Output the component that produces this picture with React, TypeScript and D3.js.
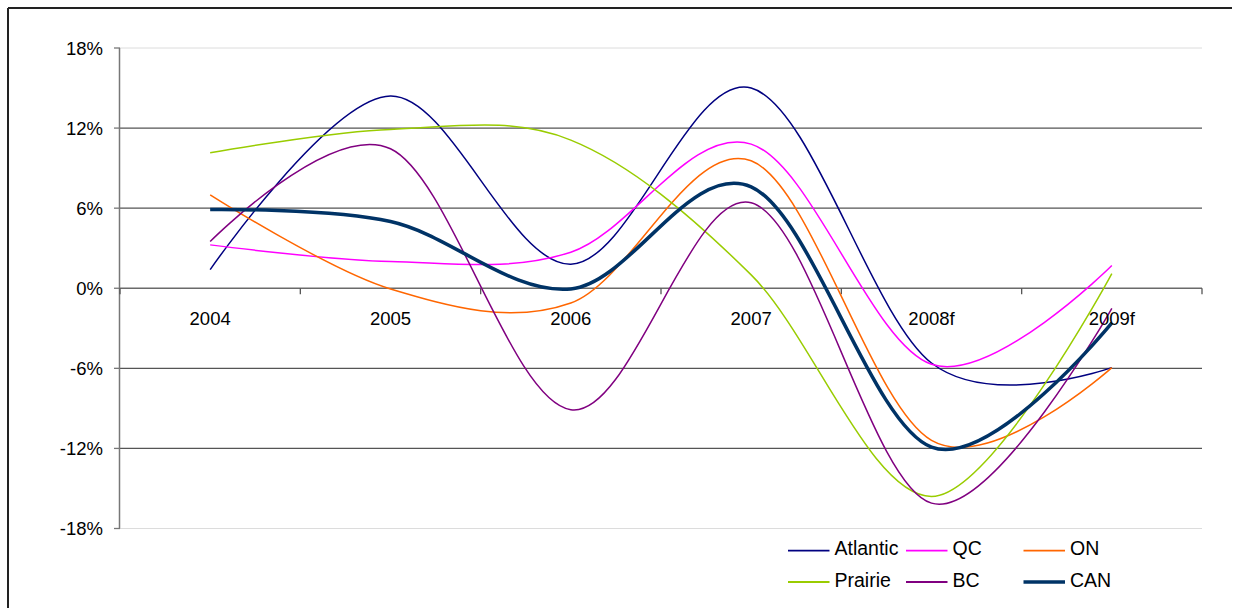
import React from "react";
import * as d3 from "d3";

// Year-over-year change by region, %
const categories = ["2004", "2005", "2006", "2007", "2008f", "2009f"];
const atlantic = [1.4, 14.4, 1.8, 15.0, -5.6, -5.95];
const qc = [3.25, 2.0, 2.7, 10.8, -5.7, 1.7];
const on = [7.0, -0.05, -1.1, 9.55, -11.4, -5.95];
const prairie = [10.15, 11.9, 11.1, 1.0, -15.6, 1.1];
const bc = [3.5, 10.45, -9.1, 6.4, -16.1, -1.5];
const can = [5.9, 5.0, -0.05, 7.6, -11.9, -2.6];

const yTicks = [18, 12, 6, 0, -6, -12, -18];

const series = [
  { name: "Atlantic", values: atlantic, color: "#000080", width: 1.5 },
  { name: "QC", values: qc, color: "#FF00FF", width: 1.5 },
  { name: "ON", values: on, color: "#FF6600", width: 1.5 },
  { name: "Prairie", values: prairie, color: "#99CC00", width: 1.5 },
  { name: "BC", values: bc, color: "#800080", width: 1.5 },
  { name: "CAN", values: can, color: "#003366", width: 3.5 },
];

const W = 1238;
const H = 608;
const FONT = "'Liberation Sans', Arial, sans-serif";

export default function App() {
  const x = d3.scaleBand<string>().domain(categories).range([120, 1202]).padding(0);
  const y = d3.scaleLinear().domain([-18, 18]).range([528.5, 48]);
  const cx = (c: string) => (x(c) as number) + x.bandwidth() / 2;

  const line = d3
    .line<number>()
    .x((_, i) => cx(categories[i]))
    .y((v) => y(v))
    .curve(d3.curveCardinal.tension(0));

  const [x0, x1] = x.range();
  const boundaries = categories.map((c) => x(c) as number).concat([x1]);

  const legendCols = [788, 906, 1023.5];
  const legendRows = [550.7, 582];

  return (
    <svg
      width={W}
      height={H}
      style={{ position: "absolute", left: 0, top: 0, display: "block", background: "#fff" }}
      fontFamily={FONT}
    >
      {/* chart frame */}
      <line x1={8} y1={8} x2={1232} y2={8} stroke="#222" strokeWidth={2} />
      <line x1={8} y1={8} x2={8} y2={H} stroke="#222" strokeWidth={2} />

      {/* horizontal gridlines */}
      {yTicks.map((t) => (
        <line
          key={"g" + t}
          x1={x0}
          x2={x1}
          y1={y(t)}
          y2={y(t)}
          stroke={Math.abs(t) === 18 ? "#dcdcdc" : t === 0 ? "#6a6a6a" : "#555"}
          strokeWidth={Math.abs(t) === 18 ? 1 : 1.4}
        />
      ))}

      {/* y axis */}
      <line x1={x0 - 0.5} x2={x0 - 0.5} y1={y(18)} y2={y(-18)} stroke="#777" strokeWidth={1.5} />
      {yTicks.map((t) => (
        <g key={"yt" + t}>
          <line x1={x0 - 6} x2={x0} y1={y(t)} y2={y(t)} stroke="#777" strokeWidth={1.3} />
          <text x={103} y={y(t) + 6.6} textAnchor="end" fontSize={18.5} fill="#000">
            {t + "%"}
          </text>
        </g>
      ))}

      {/* category ticks on the zero line */}
      {boundaries.map((b, i) => (
        <line key={"xt" + i} x1={b} x2={b} y1={y(0)} y2={y(0) + 6} stroke="#555" strokeWidth={1.3} />
      ))}

      {/* series */}
      {series.map((s) => (
        <path
          key={s.name}
          d={line(s.values) as string}
          fill="none"
          stroke={s.color}
          strokeWidth={s.width}
          strokeLinejoin="round"
        />
      ))}

      {/* category labels */}
      {categories.map((c) => (
        <text key={"c" + c} x={cx(c)} y={324.5} textAnchor="middle" fontSize={18.5} fill="#000">
          {c}
        </text>
      ))}

      {/* legend */}
      {series.map((s, i) => {
        const lx = legendCols[i % 3];
        const ly = legendRows[Math.floor(i / 3)];
        return (
          <g key={"l" + s.name}>
            <line x1={lx} x2={lx + 41.5} y1={ly} y2={ly} stroke={s.color} strokeWidth={s.width === 1.5 ? 1.8 : 3.5} />
            <text x={lx + 46.5} y={ly + 4.5} fontSize={19.5} fill="#000">
              {s.name}
            </text>
          </g>
        );
      })}
    </svg>
  );
}
